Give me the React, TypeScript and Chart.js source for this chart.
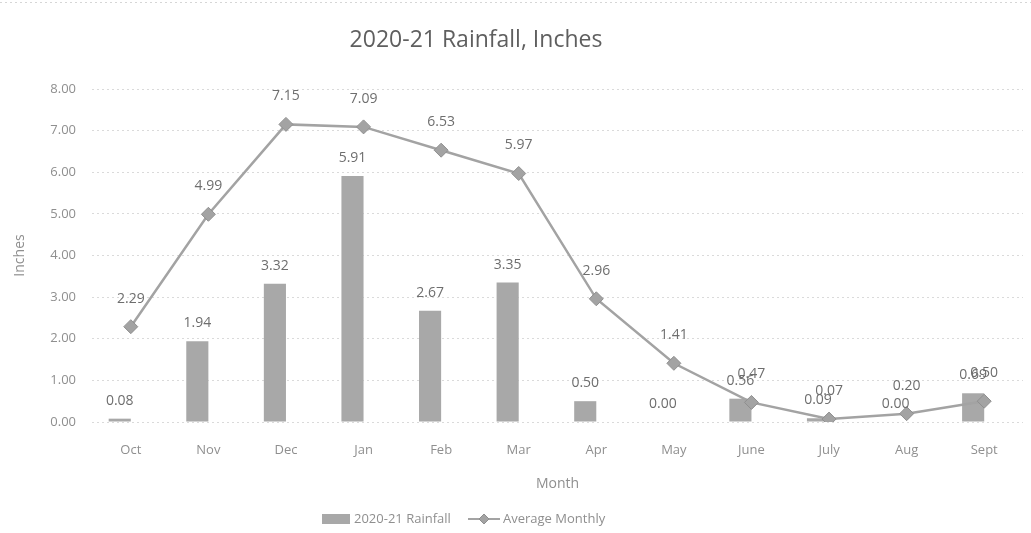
import React, { useEffect, useRef } from "react";
import { Chart, registerables } from "chart.js";

Chart.register(...registerables);

const months = ["Oct", "Nov", "Dec", "Jan", "Feb", "Mar", "Apr", "May", "June", "July", "Aug", "Sept"];
const rainfall2021 = [0.08, 1.94, 3.32, 5.91, 2.67, 3.35, 0.5, 0.0, 0.56, 0.09, 0.0, 0.69];
const averageMonthly = [2.29, 4.99, 7.15, 7.09, 6.53, 5.97, 2.96, 1.41, 0.47, 0.07, 0.2, 0.5];
const emptySeries = months.map(() => null);

const chartTitle = "2020-21 Rainfall, Inches";
const yTitle = "Inches";
const xTitle = "Month";
const barLabel = "2020-21 Rainfall";
const lineLabel = "Average Monthly";

const FONT = "'Open Sans', 'Liberation Sans', sans-serif";
const BAR_COLOR = "#a8a8a8";
const LINE_COLOR = "#a3a3a3";
const TEXT_COLOR = "#6e6e6e";
const TICK_COLOR = "#8f8f8f";

const overlayPlugin = {
  id: "overlay",
  beforeDraw(chart: any) {
    const ctx = chart.ctx;
    ctx.save();
    ctx.strokeStyle = "#d6d6d6";
    ctx.lineWidth = 1;
    ctx.setLineDash([2, 3]);
    ctx.beginPath();
    ctx.moveTo(0, 2.5);
    ctx.lineTo(1031, 2.5);
    ctx.stroke();
    ctx.restore();
  },
  afterDatasetsDraw(chart: any) {
    const ctx = chart.ctx;
    ctx.save();
    ctx.font = `14px ${FONT}`;
    ctx.fillStyle = TEXT_COLOR;
    ctx.textAlign = "center";
    ctx.textBaseline = "middle";
    const barMeta = chart.getDatasetMeta(0);
    barMeta.data.forEach((el: any, i: number) => {
      const v = rainfall2021[i];
      ctx.fillText(v.toFixed(2), el.x, el.y - 18);
    });
    const lineMeta = chart.getDatasetMeta(2);
    lineMeta.data.forEach((el: any, i: number) => {
      const v = averageMonthly[i];
      ctx.fillText(v.toFixed(2), el.x, el.y - 28);
    });
    ctx.restore();
  },
  afterDraw(chart: any) {
    const ctx = chart.ctx;
    const area = chart.chartArea;
    ctx.save();
    // title
    ctx.fillStyle = "#5f5f5f";
    ctx.font = `23px ${FONT}`;
    ctx.textAlign = "center";
    ctx.textBaseline = "middle";
    ctx.fillText(chartTitle, 476, 40);
    // axis titles
    ctx.fillStyle = TICK_COLOR;
    ctx.font = `14px ${FONT}`;
    ctx.fillText(xTitle, (area.left + area.right) / 2, 484);
    ctx.save();
    ctx.translate(20, (area.top + area.bottom) / 2);
    ctx.rotate(-Math.PI / 2);
    ctx.fillText(yTitle, 0, 0);
    ctx.restore();
    // legend
    const ly = 519;
    ctx.fillStyle = BAR_COLOR;
    ctx.fillRect(322, ly - 5, 28, 10);
    ctx.fillStyle = TICK_COLOR;
    ctx.font = `13px ${FONT}`;
    ctx.textAlign = "left";
    ctx.fillText(barLabel, 354, ly);
    ctx.strokeStyle = LINE_COLOR;
    ctx.lineWidth = 2;
    ctx.beginPath();
    ctx.moveTo(468, ly);
    ctx.lineTo(500, ly);
    ctx.stroke();
    ctx.fillStyle = LINE_COLOR;
    ctx.strokeStyle = "#8f8f8f";
    ctx.lineWidth = 1;
    ctx.beginPath();
    ctx.moveTo(484, ly - 5);
    ctx.lineTo(489, ly);
    ctx.lineTo(484, ly + 5);
    ctx.lineTo(479, ly);
    ctx.closePath();
    ctx.fill();
    ctx.stroke();
    ctx.fillStyle = TICK_COLOR;
    ctx.fillText(lineLabel, 503, ly);
    ctx.restore();
  },
};

export default function App() {
  const ref = useRef<HTMLCanvasElement | null>(null);

  useEffect(() => {
    const canvas = ref.current;
    if (!canvas) return;
    const chart = new Chart(canvas, {
      type: "bar",
      data: {
        labels: months,
        datasets: [
          {
            type: "bar",
            label: barLabel,
            data: rainfall2021,
            backgroundColor: BAR_COLOR,
            categoryPercentage: 0.57,
            barPercentage: 1,
            order: 1,
          },
          {
            type: "bar",
            label: "",
            data: emptySeries as any,
            backgroundColor: "rgba(0,0,0,0)",
            categoryPercentage: 0.57,
            barPercentage: 1,
            order: 1,
          },
          {
            type: "line",
            label: lineLabel,
            data: averageMonthly,
            borderColor: LINE_COLOR,
            borderWidth: 2.5,
            pointStyle: "rectRot",
            pointRadius: 7,
            pointBackgroundColor: LINE_COLOR,
            pointBorderColor: "#8f8f8f",
            pointBorderWidth: 1,
            tension: 0,
            order: 0,
          } as any,
        ],
      },
      options: {
        responsive: false,
        animation: false,
        devicePixelRatio: 1,
        layout: { padding: { top: 89, right: 7, bottom: 0, left: 0 } },
        plugins: {
          legend: { display: false },
          title: { display: false },
          tooltip: { enabled: false },
        },
        scales: {
          x: {
            grid: { display: false, drawTicks: false },
            border: { display: false },
            ticks: {
              color: TICK_COLOR,
              font: { family: FONT, size: 13 },
              padding: 20,
              maxRotation: 0,
              autoSkip: false,
            },
            afterFit: (s: any) => {
              s.height = 111;
            },
          },
          y: {
            min: 0,
            max: 8,
            grid: { color: "#dadada", drawTicks: false, lineWidth: 1 },
            border: { display: false, dash: [2, 3] },
            ticks: {
              stepSize: 1,
              color: TICK_COLOR,
              font: { family: FONT, size: 13 },
              padding: 16,
              callback: (v: any) => Number(v).toFixed(2),
            },
            afterFit: (s: any) => {
              s.width = 92;
            },
          },
        },
      },
      plugins: [overlayPlugin],
    } as any);
    return () => chart.destroy();
  }, []);

  return (
    <div style={{ position: "absolute", left: 0, top: 0, width: 1031, height: 533, background: "#fff" }}>
      <canvas ref={ref} width={1031} height={533} style={{ display: "block" }} />
    </div>
  );
}
